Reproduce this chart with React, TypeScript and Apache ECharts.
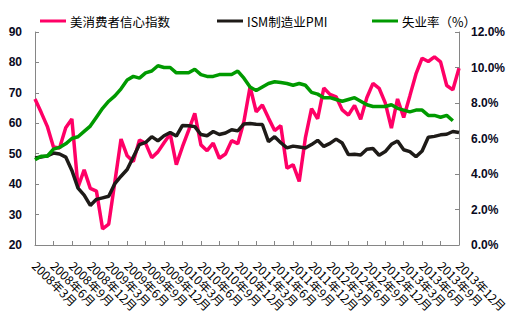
import React, { useEffect, useRef } from "react";
import * as echarts from "echarts";

const years = [2008, 2009, 2010, 2011, 2012, 2013];
const categories: string[] = [];
for (const y of years) {
  for (let m = 1; m <= 12; m++) {
    if (y === 2008 && m < 3) continue;
    categories.push(`${y}年${m}月`);
  }
}

const seriesNames = ["美消费者信心指数", "ISM制造业PMI", "失业率（%）"];

const consumerConfidence = [
  68.0, 63.6, 59.0, 52.2, 51.9, 58.5, 61.4, 39.0, 44.7, 38.6,
  37.7, 25.3, 26.9, 40.8, 54.8, 49.3, 47.4, 54.5, 53.4, 48.7, 50.6, 53.6,
  56.5, 46.4, 52.3, 57.7, 63.3, 52.9, 51.0, 53.5, 48.5, 49.9, 54.3, 53.3,
  60.6, 72.0, 63.8, 66.0, 61.7, 57.6, 59.2, 45.2, 46.4, 40.9, 55.2, 64.8,
  61.5, 71.6, 69.5, 68.7, 64.4, 62.7, 65.9, 61.3, 68.4, 73.1, 71.5, 66.7,
  58.4, 68.0, 61.9, 69.0, 76.2, 81.4, 80.3, 81.8, 80.2, 72.4, 71.0, 78.1,
];

const ismPmi = [
  48.6, 48.9, 49.3, 50.2, 49.9, 48.9, 44.5, 38.7, 36.4, 33.0,
  35.0, 35.5, 36.0, 40.2, 42.6, 44.8, 48.9, 53.0, 53.7, 55.6, 54.2, 55.9,
  57.0, 55.8, 59.3, 59.2, 58.9, 56.3, 55.9, 57.3, 56.3, 56.8, 57.9, 57.5,
  59.8, 59.9, 59.7, 59.6, 54.0, 55.6, 53.6, 51.9, 52.5, 52.2, 51.9, 53.0,
  54.4, 52.4, 53.4, 54.8, 53.5, 49.7, 49.8, 49.6, 51.5, 51.7, 49.5, 50.7,
  53.1, 54.2, 51.3, 50.7, 49.0, 50.9, 55.4, 55.7, 56.2, 56.4, 57.3, 57.0,
];

const unemployment: (number | null)[] = [
  4.8, 5.0, 5.0, 5.4, 5.5, 5.7, 6.0, 6.1, 6.4, 6.7,
  7.2, 7.7, 8.1, 8.4, 8.8, 9.3, 9.5, 9.4, 9.7, 9.8, 10.1, 10.0,
  10.0, 9.7, 9.7, 9.7, 9.9, 9.6, 9.5, 9.5, 9.6, 9.6, 9.6, 9.8,
  9.4, 8.9, 8.7, 8.9, 9.1, 9.2, 9.15, 9.1, 9.0, 9.1, 9.0, 8.6,
  8.5, 8.3, 8.3, 8.2, 8.1, 8.2, 8.3, 8.1, 7.9, 7.8, 7.8, 7.8,
  7.9, 7.7, 7.6, 7.5, 7.6, 7.6, 7.3, 7.3, 7.2, 7.3, 7.0, null,
];

const leftAxis = { min: 20, max: 90, interval: 10 };
const rightAxis = { min: 0, max: 12, interval: 2 };

const colors = ["#FF0066", "#1E1B18", "#009A00"];
const legendLefts = [40, 217, 372];

export default function App() {
  const ref = useRef<HTMLDivElement>(null);
  useEffect(() => {
    if (!ref.current) return;
    const chart = echarts.init(ref.current, undefined, { renderer: "svg" });
    const axisColor = "#868686";
    const labelFont = {
      fontFamily: "Liberation Sans, Arial, sans-serif",
      fontWeight: "bold" as const,
      fontSize: 12,
      color: "#0a0a1e",
    };
    chart.setOption({
      animation: false,
      backgroundColor: "#fff",
      color: colors,
      legend: seriesNames.map((name, i) => ({
        top: 14,
        left: legendLefts[i],
        itemWidth: 26,
        itemHeight: 3,
        itemGap: 4,
        icon: "rect",
        padding: 0,
        textStyle: {
          fontFamily: "Noto Sans CJK SC",
          fontSize: 12.5,
          lineHeight: 14,
          color: "#000",
          padding: [0, 0, 0, -1],
        },
        data: [name],
      })),
      grid: { left: 35, right: 56, top: 32, bottom: 79 },
      xAxis: {
        type: "category",
        data: categories,
        boundaryGap: false,
        axisLine: { lineStyle: { color: axisColor, width: 1 } },
        axisTick: { inside: true, length: 4, interval: 2, lineStyle: { color: axisColor } },
        axisLabel: {
          interval: 2,
          rotate: -45,
          margin: 18,
          fontFamily: "Noto Sans CJK SC",
          fontSize: 12,
          color: "#000",
        },
        splitLine: { show: false },
      },
      yAxis: [
        {
          type: "value",
          ...leftAxis,
          position: "left",
          axisLine: { show: true, lineStyle: { color: axisColor } },
          axisTick: { show: true, inside: true, length: 4, lineStyle: { color: axisColor } },
          axisLabel: { ...labelFont, margin: 13 },
          splitLine: { show: false },
        },
        {
          type: "value",
          ...rightAxis,
          position: "right",
          axisLine: { show: true, lineStyle: { color: axisColor } },
          axisTick: { show: true, inside: true, length: 4, lineStyle: { color: axisColor } },
          axisLabel: {
            ...labelFont,
            margin: 12,
            formatter: (v: number) => v.toFixed(1) + "%",
          },
          splitLine: { show: false },
        },
      ],
      series: [
        {
          name: seriesNames[0],
          type: "line",
          data: consumerConfidence,
          yAxisIndex: 0,
          symbol: "none",
          lineStyle: { width: 3.5, color: colors[0] },
        },
        {
          name: seriesNames[1],
          type: "line",
          data: ismPmi,
          yAxisIndex: 0,
          symbol: "none",
          lineStyle: { width: 3.5, color: colors[1] },
        },
        {
          name: seriesNames[2],
          type: "line",
          data: unemployment,
          yAxisIndex: 1,
          symbol: "none",
          lineStyle: { width: 3.5, color: colors[2] },
        },
      ],
    });
    return () => chart.dispose();
  }, []);
  return (
    <div
      ref={ref}
      style={{ position: "fixed", left: 0, top: 0, width: 515, height: 324 }}
    />
  );
}
